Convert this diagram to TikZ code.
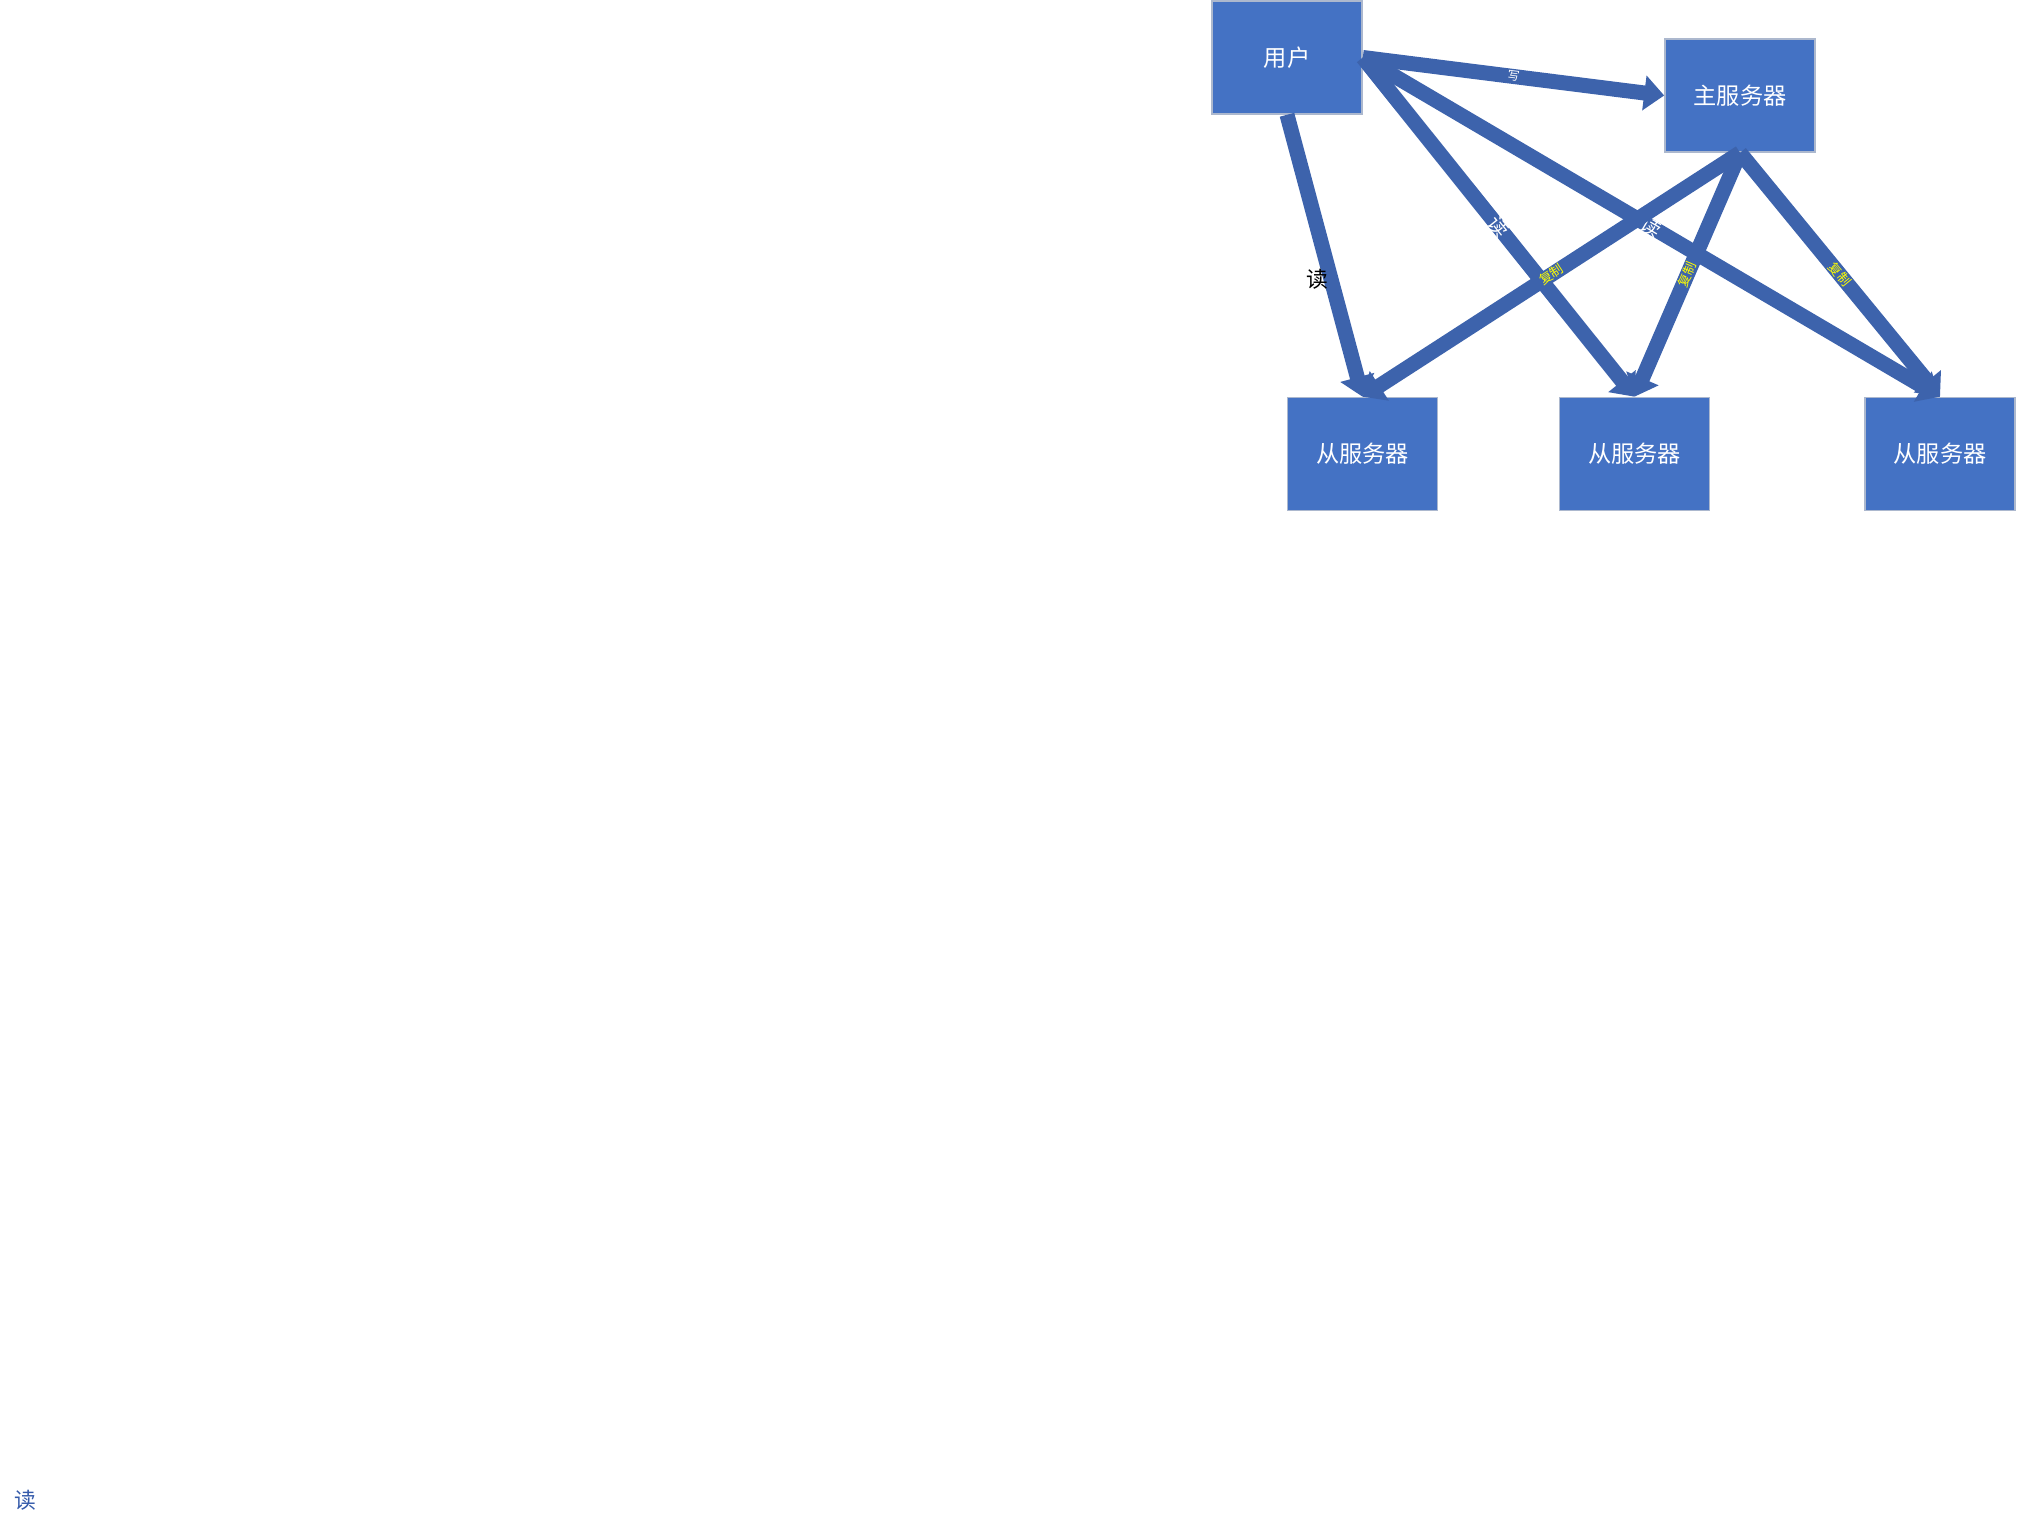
\documentclass[tikz,border=0pt]{standalone}
\usepackage{fontspec}
\setmainfont{Noto Sans CJK SC}
\usetikzlibrary{arrows.meta}
\definecolor{boxblue}{RGB}{68,114,196}
\definecolor{arrowblue}{RGB}{61,99,172}
\definecolor{boxedge}{RGB}{172,184,206}
\definecolor{copyyellow}{RGB}{255,255,0}
\definecolor{noteblue}{RGB}{52,90,170}

\begin{document}
\begin{tikzpicture}[x=0.01cm,y=-0.01cm,
  server/.style={draw=boxedge, line width=0.015cm, fill=boxblue,
    minimum width=1.5cm, minimum height=1.13cm, inner sep=0pt,
    text=white, font=\fontsize{6.6}{7}\selectfont},
  flow/.style={draw=arrowblue, line width=0.15cm,
    -{Triangle[length=0.2cm,width=0.34cm]}},
  writelbl/.style={sloped, inner sep=0pt, text=white, font=\fontsize{3.4}{4}\selectfont},
  readlbl/.style={sloped, inner sep=0pt, text=white, font=\fontsize{5.8}{6}\selectfont},
  copylbl/.style={sloped, inner sep=0pt, text=copyyellow, font=\fontsize{3.7}{4}\selectfont},
  note/.style={inner sep=0pt, font=\fontsize{6.2}{7}\selectfont}]

\useasboundingbox (0,0) rectangle (2017,1525);

% servers and client
\node[server] (user)   at (1287,57.5)  {用户};
\node[server] (master) at (1740,95.5)  {主服务器};
\node[server] (s1)     at (1362.5,454) {从服务器};
\node[server] (s2)     at (1634.5,454) {从服务器};
\node[server] (s3)     at (1940,454)   {从服务器};

% client traffic
\draw[flow] (user.east)  -- node[writelbl] {写} (master.west);
\draw[flow] (user.south) -- (s1.north);
\draw[flow] (user.east)  -- node[readlbl] {读} (s2.north);
\draw[flow] (user.east)  -- node[readlbl] {读} (s3.north);

% replication from the master
\draw[flow] (master.south) -- node[copylbl] {复制} (s1.north);
\draw[flow] (master.south) -- node[copylbl] {复制} (s2.north);
\draw[flow] (master.south) -- node[copylbl] {复制} (s3.north);

% loose notes
\node[note, text=black]    (readnote)   at (1317,279) {读};
\node[note, text=noteblue] (cornernote) at (25,1500)  {读};
\end{tikzpicture}
\end{document}
